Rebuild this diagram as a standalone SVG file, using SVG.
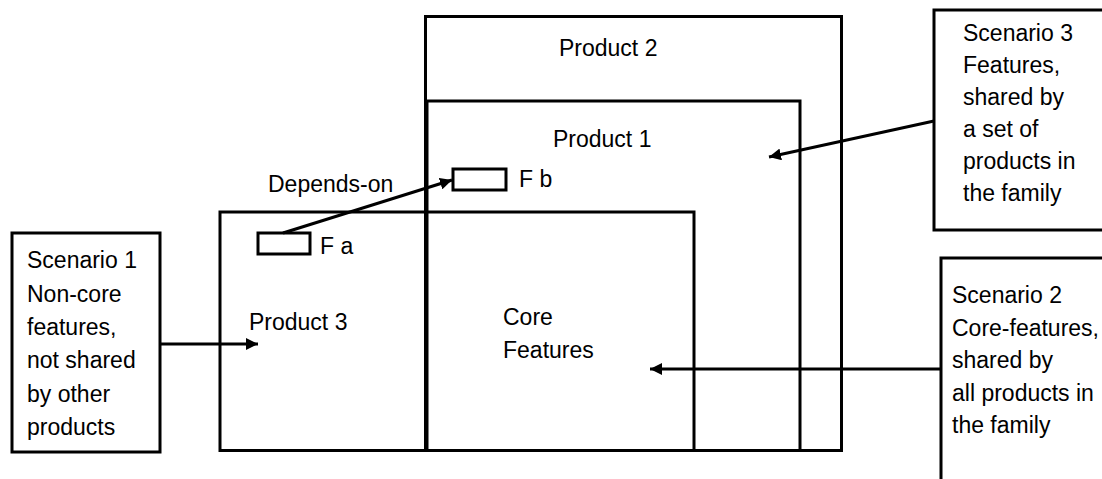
<svg xmlns="http://www.w3.org/2000/svg" width="1102" height="479" viewBox="0 0 1102 479">
  <style>
    .box { fill: none; stroke: #000; stroke-width: 3; }
    .note { fill: #fff; stroke: #000; stroke-width: 3; }
    .lbl { font-family: "Liberation Sans", Arial, sans-serif; font-size: 23px; fill: #000; }
    .wire { fill: none; stroke: #000; stroke-width: 3; }
  </style>
  <defs>
    <marker id="head" viewBox="0 0 10 10" refX="10" refY="5" markerWidth="4" markerHeight="4" markerUnits="strokeWidth" orient="auto">
      <path d="M0,0 L10,5 L0,10 z" fill="#000"/>
    </marker>
  </defs>
  <rect width="1102" height="479" fill="#fff"/>

  <!-- product scopes -->
  <g id="product2">
    <rect class="box" x="425.5" y="16.5" width="416" height="434"/>
    <text class="lbl" x="559" y="56">Product 2</text>
  </g>
  <g id="product1">
    <rect class="box" x="427" y="101" width="373" height="349.5"/>
    <text class="lbl" x="553" y="147">Product 1</text>
  </g>
  <g id="product3">
    <rect class="box" x="220" y="212" width="474" height="238.5"/>
    <text class="lbl" x="249" y="330">Product 3</text>
  </g>
  <g id="core">
    <text class="lbl" x="503" y="325">Core</text>
    <text class="lbl" x="503" y="358">Features</text>
  </g>

  <!-- features -->
  <g id="fa">
    <rect class="box" x="258" y="233" width="52" height="21"/>
    <text class="lbl" x="320" y="254">F a</text>
  </g>
  <g id="fb">
    <rect class="box" x="453" y="169" width="53" height="21"/>
    <text class="lbl" x="519" y="187">F b</text>
  </g>
  <text id="depends-on" class="lbl" x="268" y="192">Depends-on</text>

  <!-- scenario notes -->
  <g id="scenario1">
    <rect class="note" x="12" y="233" width="148" height="219"/>
    <text class="lbl" x="27" y="268">Scenario 1</text>
    <text class="lbl" x="27" y="301.5">Non-core</text>
    <text class="lbl" x="27" y="335">features,</text>
    <text class="lbl" x="27" y="368">not shared</text>
    <text class="lbl" x="27" y="401.5">by other</text>
    <text class="lbl" x="27" y="435">products</text>
  </g>
  <g id="scenario2">
    <rect class="note" x="941" y="258" width="200" height="250"/>
    <text class="lbl" x="952" y="303">Scenario 2</text>
    <text class="lbl" x="952" y="335.5">Core-features,</text>
    <text class="lbl" x="952" y="368">shared by</text>
    <text class="lbl" x="952" y="400.5">all products in</text>
    <text class="lbl" x="952" y="433">the family</text>
  </g>
  <g id="scenario3">
    <rect class="note" x="934" y="10" width="200" height="220"/>
    <text class="lbl" x="963" y="40.5">Scenario 3</text>
    <text class="lbl" x="963" y="72.5">Features,</text>
    <text class="lbl" x="963" y="104.5">shared by</text>
    <text class="lbl" x="963" y="136.5">a set of</text>
    <text class="lbl" x="963" y="168.5">products in</text>
    <text class="lbl" x="963" y="200.5">the family</text>
  </g>

  <!-- connectors -->
  <g id="connectors">
    <line class="wire" x1="283" y1="233" x2="452" y2="180" marker-end="url(#head)"/>
    <line class="wire" x1="160" y1="344" x2="258" y2="344" marker-end="url(#head)"/>
    <line class="wire" x1="941" y1="369" x2="650" y2="369" marker-end="url(#head)"/>
    <line class="wire" x1="934" y1="121" x2="769" y2="157" marker-end="url(#head)"/>
  </g>
</svg>
